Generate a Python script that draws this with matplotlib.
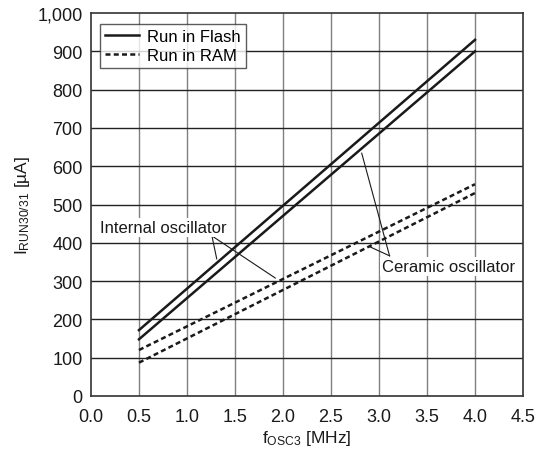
import numpy as np
import matplotlib.pyplot as plt

plt.rcParams['font.family'] = ['Liberation Sans', 'DejaVu Sans']

# endpoints of each curve (MHz, uA)
freq = [0.5, 4.0]
flash_internal = [172, 930]
flash_ceramic = [148, 900]
ram_internal = [120, 553]
ram_ceramic = [87, 530]

xticks = np.arange(0, 4.51, 0.5)
yticks = np.arange(0, 1001, 100)
ytick_labels = ['0', '100', '200', '300', '400', '500', '600', '700', '800', '900', '1,000']

fig = plt.figure(figsize=(5.35, 4.52), dpi=100)
ax = fig.add_axes([0.170, 0.1217, 0.8076, 0.8473])

for v in xticks[1:-1]:
    ax.axvline(v, color='#808080', lw=1.0, zorder=1)
for v in yticks[1:-1]:
    ax.axhline(v, color='#222222', lw=1.0, zorder=1)

ax.plot(freq, flash_internal, color='#1a1a1a', lw=1.8, label='Run in Flash', zorder=3)
ax.plot(freq, flash_ceramic, color='#1a1a1a', lw=1.8, zorder=3)
ax.plot(freq, ram_internal, color='#1a1a1a', lw=1.8, ls=(0, (2, 1.3)), label='Run in RAM', zorder=3)
ax.plot(freq, ram_ceramic, color='#1a1a1a', lw=1.8, ls=(0, (2, 1.3)), zorder=3)

ax.set_xlim(0, 4.5)
ax.set_ylim(0, 1000)
ax.set_xticks(xticks)
ax.set_xticklabels(['%.1f' % v for v in xticks])
ax.set_yticks(yticks)
ax.set_yticklabels(ytick_labels)
ax.tick_params(length=0, labelsize=13, colors='#1a1a1a')
ax.tick_params(axis='x', pad=9)
ax.tick_params(axis='y', pad=6)
for s in ax.spines.values():
    s.set_color('#333333')
    s.set_linewidth(1.2)

ax.set_xlabel(r'f$\mathregular{_{OSC3}}$ [MHz]', fontsize=12.5, color='#1a1a1a', labelpad=2)
ax.set_ylabel(r'I$\mathregular{_{RUN30/31}}$ [µA]', fontsize=12.5, color='#1a1a1a', labelpad=4)

leg = ax.legend(loc='upper left', bbox_to_anchor=(0.01, 0.985), fontsize=12,
                frameon=True, fancybox=False, handlelength=2.0, handletextpad=0.5,
                borderpad=0.3, labelspacing=0.25, borderaxespad=0.3)
leg.get_frame().set_edgecolor('#333333')
leg.get_frame().set_linewidth(1.0)
leg.set_zorder(5)

# annotations
ax.text(0.09, 441, 'Internal oscillator', fontsize=12, va='center', ha='left',
        color='#1a1a1a', zorder=6,
        bbox=dict(facecolor='white', edgecolor='none', pad=1.5))
ax.plot([1.26, 1.31], [418, 358], color='#1a1a1a', lw=0.8, zorder=4)
ax.plot([1.26, 1.92], [418, 308], color='#1a1a1a', lw=0.8, zorder=4)

ax.text(3.03, 337, 'Ceramic oscillator', fontsize=12, va='center', ha='left',
        color='#1a1a1a', zorder=6,
        bbox=dict(facecolor='white', edgecolor='none', pad=1.5))
ax.plot([3.11, 2.82], [366, 634], color='#1a1a1a', lw=0.8, zorder=4)
ax.plot([3.11, 2.91], [366, 389], color='#1a1a1a', lw=0.8, zorder=4)

fig.savefig('out.png', dpi=100)
